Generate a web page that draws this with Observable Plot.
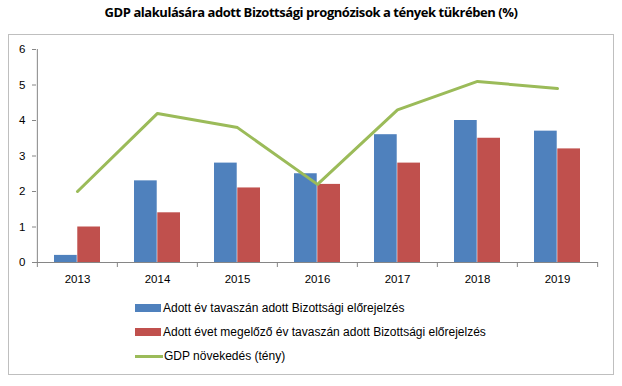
<!DOCTYPE html>
<html><head><meta charset="utf-8">
<script src="https://cdn.jsdelivr.net/npm/d3@7"></script>
<script src="https://cdn.jsdelivr.net/npm/@observablehq/plot@0.6"></script>
<style>
body{margin:0;width:622px;height:386px;position:relative;background:#fff;font-family:"Liberation Sans",Arial,sans-serif;overflow:hidden}
#title{position:absolute;left:0;top:3px;width:622px;text-align:center;font:bold 13px "Open Sans","Liberation Sans",sans-serif;letter-spacing:-0.45px;color:#000}
#box{position:absolute;left:8px;top:34px;width:604px;height:339px;border:1px solid #BFBFBF}
#chart{position:absolute;left:0;top:0}
#legend{position:absolute;left:135px;top:296px;font-size:12px;color:#000}
.row{height:24px;display:flex;align-items:center}
.sw{width:26px;height:8px;margin-right:2px}
.ln{width:28px;height:3px;margin-right:1px}
</style></head><body>
<div id="title">GDP alakulására adott Bizottsági prognózisok a tények tükrében (%)</div>
<div id="box"></div>
<div id="chart"></div>
<div id="legend"></div>
<script>
const years = ["2013","2014","2015","2016","2017","2018","2019"];
const forecastSameYear = [0.2, 2.3, 2.8, 2.5, 3.6, 4.0, 3.7];
const forecastPrevYear = [1.0, 1.4, 2.1, 2.2, 2.8, 3.5, 3.2];
const gdpActual = [2.0, 4.2, 3.8, 2.2, 4.3, 5.1, 4.9];
const seriesNames = [
  "Adott év tavaszán adott Bizottsági előrejelzés",
  "Adott évet megelőző év tavaszán adott Bizottsági előrejelzés",
  "GDP növekedés (tény)"
];
const colors = ["#4F81BD", "#C0504D", "#9BBB59"];
const yTicks = [0,1,2,3,4,5,6];

const W = 622, H = 290, mL = 36, mR = 24;
const step = (W - mL - mR) / years.length;
const padIn = 0.42;
const half = step * (1 - padIn) / 2;

const blue = years.map((y,i)=>({year:y, v:forecastSameYear[i]}));
const red = years.map((y,i)=>({year:y, v:forecastPrevYear[i]}));
const green = years.map((y,i)=>({year:y, v:gdpActual[i]}));

const chart = Plot.plot({
  width: W, height: H,
  marginLeft: mL, marginRight: mR, marginTop: 49, marginBottom: 28,
  style: {fontFamily: "'Liberation Sans', Arial, sans-serif", fontSize: "11.5px", color: "#000", background: "transparent"},
  x: {domain: years, paddingInner: padIn, paddingOuter: padIn / 2, align: 0.5, label: null},
  y: {domain: [0, 6], label: null},
  marks: [
    Plot.barY(blue, {x: "year", y: "v", fill: colors[0], insetRight: half}),
    Plot.barY(red, {x: "year", y: "v", fill: colors[1], insetLeft: half}),
    Plot.line(green, {x: "year", y: "v", stroke: colors[2], strokeWidth: 3}),
    Plot.axisX({tickSize: 0, tickPadding: 12}),
    Plot.axisY({ticks: yTicks, tickSize: 4, tickPadding: 7, stroke: "#868686", tickFormat: d3.format("d")}),
    Plot.ruleY([0], {stroke: "#868686"}),
    Plot.ruleX(years, {x: d => d, y1: 0, y2: 0, dx: -step/2, stroke: "#868686", insetBottom: -5}),
    Plot.ruleX([years[years.length-1]], {x: d => d, y1: 0, y2: 0, dx: step/2, stroke: "#868686", insetBottom: -5}),
    Plot.ruleX([years[0]], {x: d => d, y1: 0, y2: 6, dx: -step/2, stroke: "#868686"})
  ]
});
document.getElementById("chart").appendChild(chart);

const lg = document.getElementById("legend");
seriesNames.forEach((n,i)=>{
  const r = document.createElement("div"); r.className="row";
  const s = document.createElement("div"); s.className = i<2 ? "sw" : "ln"; s.style.background = colors[i];
  const t = document.createElement("span"); t.textContent = n;
  r.appendChild(s); r.appendChild(t); lg.appendChild(r);
});
</script>
</body></html>
